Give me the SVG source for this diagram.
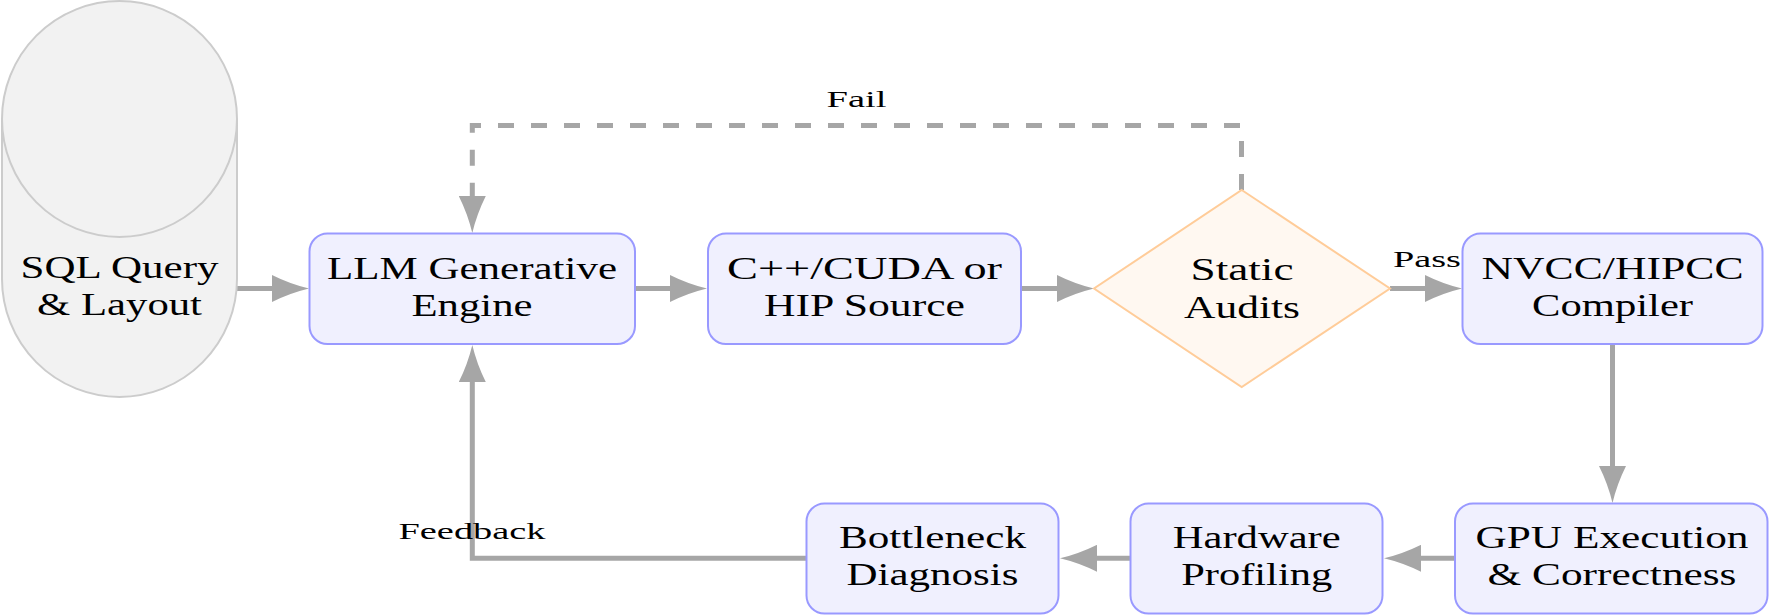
<svg xmlns="http://www.w3.org/2000/svg" width="1771" height="615" viewBox="0 0 1771 615">
<style>
.box{fill:#f0f0fe;stroke:#9999ff;stroke-width:2}
.dia{fill:#fff8f1;stroke:#ffcc99;stroke-width:2}
.cyl{fill:#f2f2f2;stroke:#cccccc;stroke-width:2}
.t{font-family:"Liberation Serif","Times New Roman",serif;font-size:31px;fill:#000;text-anchor:middle}
.l{font-family:"Liberation Serif","Times New Roman",serif;font-size:24px;fill:#000;text-anchor:middle}
.c{fill:none;stroke:#a6a6a6;stroke-width:5}
.d{stroke-dasharray:16 17}
</style>
<defs>
<marker id="ah" markerUnits="userSpaceOnUse" markerWidth="37" markerHeight="27" viewBox="0 0 37 27" refX="1" refY="13.5" orient="auto">
<path d="M0,0 Q18,9 37,13.5 Q18,18 0,27 Z" fill="#a6a6a6"/>
</marker>
</defs>
<g id="connectors">
<path class="c" d="M237,288.5 H273" marker-end="url(#ah)"/>
<path class="c" d="M635,288.5 H671" marker-end="url(#ah)"/>
<path class="c" d="M1021,288.5 H1058" marker-end="url(#ah)"/>
<path class="c" d="M1390,288.5 H1426" marker-end="url(#ah)"/>
<path class="c" d="M1612.5,344 V467" marker-end="url(#ah)"/>
<path class="c" d="M1455,558.3 H1420" marker-end="url(#ah)"/>
<path class="c" d="M1130.7,558.3 H1096" marker-end="url(#ah)"/>
<path class="c" d="M806.7,558.3 H472.3 V381" marker-end="url(#ah)"/>
<path class="c d" d="M1241.5,190 V125.5 H472.3 V197" marker-end="url(#ah)"/>
<text class="l" x="856.5" y="106.7" textLength="60" lengthAdjust="spacingAndGlyphs">Fail</text>
<text class="l" x="1427" y="267.3" textLength="68" lengthAdjust="spacingAndGlyphs">Pass</text>
<text class="l" x="472" y="539" textLength="147" lengthAdjust="spacingAndGlyphs">Feedback</text>
</g>
<g id="sql">
<path class="cyl" d="M2,119 A117.5,118 0 0 1 237,119 V279 A117.5,118 0 0 1 2,279 Z"/>
<path class="cyl" d="M2,119 A117.5,118 0 0 0 237,119" fill="none"/>
<text class="t" x="119.5" y="277.5" textLength="198" lengthAdjust="spacingAndGlyphs">SQL Query</text>
<text class="t" x="119.5" y="315" textLength="165" lengthAdjust="spacingAndGlyphs">&amp; Layout</text>
</g>
<g id="llm">
<rect class="box" x="309.5" y="233.5" width="325.5" height="110.5" rx="18"/>
<text class="t" x="472" y="278.5" textLength="290" lengthAdjust="spacingAndGlyphs">LLM Generative</text>
<text class="t" x="472" y="316" textLength="121" lengthAdjust="spacingAndGlyphs">Engine</text>
</g>
<g id="source">
<rect class="box" x="708" y="233.5" width="313" height="110.5" rx="18"/>
<text class="t" x="864.5" y="278.5" textLength="275" lengthAdjust="spacingAndGlyphs">C++/CUDA or</text>
<text class="t" x="864.5" y="316" textLength="201" lengthAdjust="spacingAndGlyphs">HIP Source</text>
</g>
<g id="audits">
<polygon class="dia" points="1241.7,190 1390,288.5 1241.7,387 1094,288.5"/>
<text class="t" x="1242" y="279.5" textLength="103" lengthAdjust="spacingAndGlyphs">Static</text>
<text class="t" x="1242" y="317.5" textLength="116" lengthAdjust="spacingAndGlyphs">Audits</text>
</g>
<g id="compiler">
<rect class="box" x="1462.5" y="233.5" width="300" height="110.5" rx="18"/>
<text class="t" x="1612.5" y="278.5" textLength="262" lengthAdjust="spacingAndGlyphs">NVCC/HIPCC</text>
<text class="t" x="1612.5" y="316" textLength="161" lengthAdjust="spacingAndGlyphs">Compiler</text>
</g>
<g id="gpu">
<rect class="box" x="1455" y="503.5" width="312.5" height="110" rx="18"/>
<text class="t" x="1612" y="547.5" textLength="273" lengthAdjust="spacingAndGlyphs">GPU Execution</text>
<text class="t" x="1612" y="585" textLength="249" lengthAdjust="spacingAndGlyphs">&amp; Correctness</text>
</g>
<g id="profiling">
<rect class="box" x="1130.5" y="503.5" width="252" height="110" rx="18"/>
<text class="t" x="1256.7" y="547.5" textLength="168" lengthAdjust="spacingAndGlyphs">Hardware</text>
<text class="t" x="1256.7" y="585" textLength="151" lengthAdjust="spacingAndGlyphs">Profiling</text>
</g>
<g id="diagnosis">
<rect class="box" x="806.5" y="503.5" width="252" height="110" rx="18"/>
<text class="t" x="932.5" y="547.5" textLength="187" lengthAdjust="spacingAndGlyphs">Bottleneck</text>
<text class="t" x="932.5" y="585" textLength="172" lengthAdjust="spacingAndGlyphs">Diagnosis</text>
</g>
</svg>
